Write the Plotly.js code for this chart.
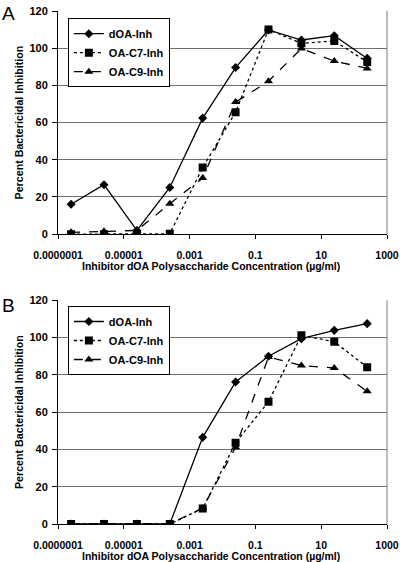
<!DOCTYPE html>
<html>
<head>
<meta charset="utf-8">
<script src="https://cdn.plot.ly/plotly-3.0.1.min.js"></script>
<style>
html,body{margin:0;padding:0;background:#fff;}
#chart{width:400px;height:562px;}
</style>
</head>
<body>
<div id="chart"></div>
<script>
// Inhibitor concentration (µg/ml), 10-fold dilutions
var conc = [0.00000025, 0.0000025, 0.000025, 0.00025, 0.0025, 0.025, 0.25, 2.5, 25, 250];

// Panel A
var a_dOA  = [16.1, 26.6, 2.0, 25.1, 62.4, 89.6, 109.8, 104.4, 106.7, 94.5];
var a_C7   = [0, 0, 0, 0.2, 35.8, 65.6, 110.0, 102.6, 103.9, 92.6];
var a_C9   = [1.0, 1.5, 2.0, 16.4, 30.2, 71.0, 82.2, 99.8, 93.1, 89.1];

// Panel B
var b_dOA  = [0, 0, 0, 0, 46.5, 76.2, 90.0, 99.4, 103.9, 107.5];
var b_C7   = [0, 0, 0, 0, 8.3, 43.6, 65.6, 101.2, 97.8, 84.1];
var b_C9   = [0, 0, 0, 0, 8.6, 41.2, 89.6, 85.0, 83.7, 71.2];

var seriesNames = ["dOA-Inh", "OA-C7-Inh", "OA-C9-Inh"];
var xTickVals = [0.0000001, 0.00001, 0.001, 0.1, 10, 1000];
var xTickText = ["0.0000001", "0.00001", "0.001", "0.1", "10", "1000"];
var yTickVals = [0, 20, 40, 60, 80, 100, 120];
var xTitle = "Inhibitor dOA Polysaccharide Concentration (µg/ml)";
var yTitle = "Percent Bactericidal Inhibition";
var panelLabels = ["A", "B"];

var FONT = "Liberation Sans, Arial, Helvetica, sans-serif";

var styles = [
  {dash: "solid", symbol: "diamond", size: 7},
  {dash: "dot", symbol: "square", size: 8},
  {dash: "dash", symbol: "triangle-up", size: 8}
];

function mk(y, i, xa, ya, leg) {
  return {
    x: conc, y: y, name: seriesNames[i], type: "scatter", mode: "lines+markers",
    xaxis: xa, yaxis: ya, legend: leg,
    line: {color: "#000", width: 1.3, dash: styles[i].dash},
    marker: {color: "#000", symbol: styles[i].symbol, size: styles[i].size}
  };
}

var data = [
  mk(a_dOA, 0, "x", "y", "legend"),
  mk(a_C7, 1, "x", "y", "legend"),
  mk(a_C9, 2, "x", "y", "legend"),
  mk(b_dOA, 0, "x2", "y2", "legend2"),
  mk(b_C7, 1, "x2", "y2", "legend2"),
  mk(b_C9, 2, "x2", "y2", "legend2")
];

function xax(anchor) {
  return {
    type: "log", range: [-7, 3], anchor: anchor, domain: [0, 1],
    tickvals: xTickVals, ticktext: xTickText,
    ticks: "outside", ticklen: 4, tickcolor: "#000", tickwidth: 1,
    ticklabelstandoff: 7,
    showline: true, linecolor: "#000", linewidth: 1,
    showgrid: false, zeroline: false, automargin: false,
    tickfont: {family: FONT, size: 10.5, color: "#000", weight: "bold"}
  };
}
function yax(anchor, dom) {
  return {
    range: [0, 120], anchor: anchor, domain: dom,
    tickvals: yTickVals,
    ticks: "outside", ticklen: 5, tickcolor: "#000", tickwidth: 1,
    ticklabelstandoff: 2,
    showline: true, linecolor: "#000", linewidth: 1,
    showgrid: true, gridcolor: "#6e6e6e", gridwidth: 1,
    zeroline: false, automargin: false,
    tickfont: {family: FONT, size: 11, color: "#000", weight: "bold"},
    title: {text: yTitle, standoff: 3, font: {family: FONT, size: 10.7, color: "#000", weight: "bold"}}
  };
}
function leg(y) {
  return {
    x: 0.03, y: y, xanchor: "left", yanchor: "top", xref: "paper", yref: "paper",
    bgcolor: "#fff", bordercolor: "#000", borderwidth: 1,
    font: {family: FONT, size: 11, color: "#000", weight: "bold"},
    itemwidth: 30, tracegroupgap: 0
  };
}
function xTitleAnn(y) {
  return {text: xTitle, xref: "paper", yref: "paper", x: 0.465, y: y, xanchor: "center", yanchor: "middle",
          showarrow: false, font: {family: FONT, size: 10.5, color: "#000", weight: "bold"}};
}

var layout = {
  width: 400, height: 562,
  margin: {l: 58, r: 13, t: 11, b: 38},
  paper_bgcolor: "#fff", plot_bgcolor: "#fff",
  showlegend: true,
  xaxis: xax("y"),
  yaxis: yax("x", [0.565, 1]),
  xaxis2: xax("y2"),
  yaxis2: yax("x2", [0, 0.436]),
  legend: leg(0.986),
  legend2: leg(0.425),
  shapes: [
    {type: "line", xref: "x domain", yref: "y domain", x0: 1, x1: 1, y0: 0, y1: 1, line: {color: "#7a7a7a", width: 1}},
    {type: "line", xref: "x2 domain", yref: "y2 domain", x0: 1, x1: 1, y0: 0, y1: 1, line: {color: "#7a7a7a", width: 1}}
  ],
  annotations: [
    xTitleAnn(0.503),
    xTitleAnn(-0.0624),
    {text: panelLabels[0], xref: "paper", yref: "paper", x: -0.175, y: 1.02, xanchor: "left", yanchor: "top",
     showarrow: false, font: {family: FONT, size: 19, color: "#000"}},
    {text: panelLabels[1], xref: "paper", yref: "paper", x: -0.175, y: 0.4505, xanchor: "left", yanchor: "top",
     showarrow: false, font: {family: FONT, size: 19, color: "#000"}}
  ]
};

Plotly.newPlot("chart", data, layout, {displayModeBar: false, staticPlot: true});
</script>
</body>
</html>
